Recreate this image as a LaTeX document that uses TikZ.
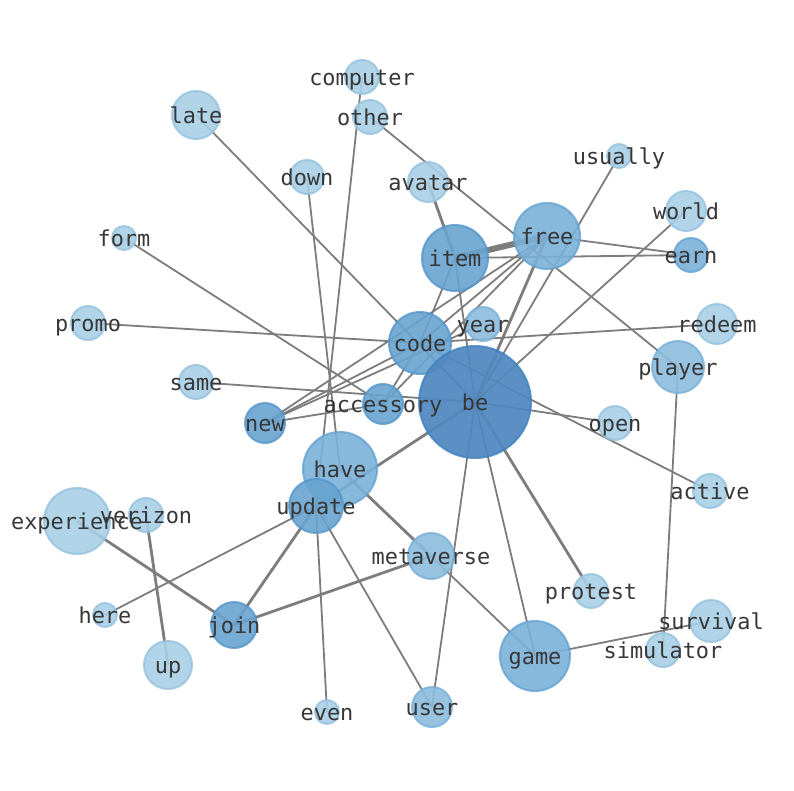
\documentclass[tikz,border=0pt]{standalone}
\usepackage{fontspec}
\setmonofont{DejaVu Sans Mono}
\usepackage{tikz}
\usetikzlibrary{backgrounds}
\definecolor{lvla}{RGB}{168,207,229}
\definecolor{lvlb}{RGB}{140,189,222}
\definecolor{lvlc}{RGB}{122,177,216}
\definecolor{lvld}{RGB}{104,163,208}
\definecolor{lvle}{RGB}{80,136,191}
\definecolor{rimblue}{RGB}{40,120,190}
\definecolor{linegray}{RGB}{125,125,125}
\definecolor{labelgray}{RGB}{55,55,55}
\tikzset{
  wv/.style={circle, inner sep=0pt, line width=2pt, fill opacity=.9, draw opacity=.8},
  va/.style={wv, fill=lvla, draw=lvla!85!rimblue},
  vb/.style={wv, fill=lvlb, draw=lvlb!80!rimblue},
  vc/.style={wv, fill=lvlc, draw=lvlc!75!rimblue},
  vd/.style={wv, fill=lvld, draw=lvld!70!rimblue},
  ve/.style={wv, fill=lvle, fill opacity=.93, draw=lvle!60!rimblue},
  lbl/.style={inner sep=0pt, text=labelgray, text height=16.6pt, text depth=0pt,
    font=\ttfamily\fontsize{21.9}{24}\selectfont},
  wedge/.style={draw=linegray, line width=1.8pt},
  midedge/.style={draw=linegray, line width=2.8pt},
  fatedge/.style={draw=linegray, line width=6pt}
}

\begin{document}
\begin{tikzpicture}[x=1pt,y=-1pt]
  \useasboundingbox (0,0) rectangle (794,790);
  % word nodes
  \node[va, minimum size=34pt] (computer) at (362,77) {};
  \node[va, minimum size=34pt] (other) at (370,117) {};
  \node[va, minimum size=48pt] (late) at (196,115) {};
  \node[va, minimum size=34pt] (down) at (307,177) {};
  \node[va, minimum size=40pt] (avatar) at (428,182) {};
  \node[va, minimum size=24pt] (usually) at (619,156) {};
  \node[va, minimum size=40pt] (world) at (686,211) {};
  \node[va, minimum size=24pt] (form) at (124,238) {};
  \node[vd, minimum size=66pt] (item) at (455,258) {};
  \node[vc, minimum size=66pt] (free) at (547,236) {};
  \node[vc, minimum size=34pt] (earn) at (691,255) {};
  \node[va, minimum size=34pt] (promo) at (88,323) {};
  \node[vb, minimum size=34pt] (year) at (483,324) {};
  \node[va, minimum size=40pt] (redeem) at (717,324) {};
  \node[vd, minimum size=62pt] (code) at (420,343) {};
  \node[vb, minimum size=52pt] (player) at (678,367) {};
  \node[va, minimum size=34pt] (same) at (196,382) {};
  \node[vd, minimum size=40pt] (accessory) at (383,404) {};
  \node[ve, minimum size=112pt] (be) at (475,402) {};
  \node[vd, minimum size=40pt] (new) at (265,423) {};
  \node[va, minimum size=34pt] (open) at (615,423) {};
  \node[vc, minimum size=74pt] (have) at (340,469) {};
  \node[va, minimum size=34pt] (active) at (710,491) {};
  \node[va, minimum size=66pt] (experience) at (77,521) {};
  \node[va, minimum size=34pt] (verizon) at (146,515) {};
  \node[vd, minimum size=54pt] (update) at (316,506) {};
  \node[vb, minimum size=46pt] (metaverse) at (431,556) {};
  \node[va, minimum size=34pt] (protest) at (591,591) {};
  \node[va, minimum size=24pt] (here) at (105,615) {};
  \node[vd, minimum size=46pt] (join) at (234,625) {};
  \node[va, minimum size=42pt] (survival) at (711,621) {};
  \node[va, minimum size=34pt] (simulator) at (663,650) {};
  \node[vc, minimum size=70pt] (game) at (535,656) {};
  \node[va, minimum size=48pt] (up) at (168,665) {};
  \node[vb, minimum size=40pt] (user) at (432,707) {};
  \node[va, minimum size=24pt] (even) at (327,712) {};

  % co-occurrence links, under the nodes
  \begin{scope}[on background layer]
    \draw[fatedge] (item.center) -- (free.center);
    \draw[midedge] (avatar.center) -- (item.center);
    \draw[midedge] (free.center) -- (be.center);
    \draw[midedge] (update.center) -- (be.center);
    \draw[midedge] (have.center) -- (metaverse.center);
    \draw[midedge] (update.center) -- (join.center);
    \draw[midedge] (join.center) -- (metaverse.center);
    \draw[midedge] (experience.center) -- (join.center);
    \draw[midedge] (verizon.center) -- (up.center);
    \draw[midedge] (be.center) -- (protest.center);
    \foreach \a/\b in {item/earn, free/earn, item/be, item/code, free/code,
        usually/be, world/be, other/player, computer/update, down/have,
        late/be, form/accessory, promo/code, same/be, code/redeem,
        code/active, be/open, new/code, new/year, new/free, new/accessory,
        accessory/code, accessory/free, have/game, here/update, update/even,
        update/user, be/user, be/game, player/simulator, game/survival}
      \draw[wedge] (\a.center) -- (\b.center);
  \end{scope}

  % labels on top
  \foreach \w in {computer, other, late, down, avatar, usually, world, form,
      item, free, earn, promo, year, redeem, code, player, same, accessory,
      be, new, open, have, active, experience, verizon, update, metaverse,
      protest, here, join, survival, simulator, game, up, user, even}
    \node[lbl] (\w-txt) at (\w) {\w};
\end{tikzpicture}
\end{document}
